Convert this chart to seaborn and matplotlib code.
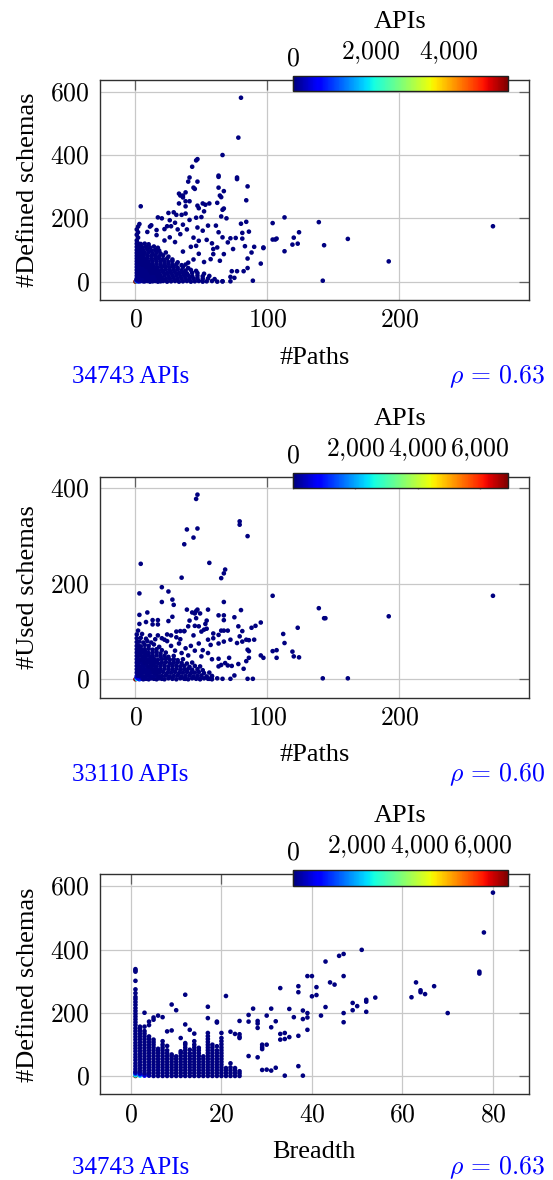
import matplotlib
matplotlib.use("Agg")
import matplotlib.pyplot as plt
import numpy as np
import pandas as pd
import seaborn as sns
from matplotlib.ticker import FuncFormatter, FixedLocator
from matplotlib.colors import Normalize
from matplotlib.cm import ScalarMappable
from matplotlib.transforms import ScaledTranslation

# ---------------- data: (x, y, number of APIs at that point) ----------------
# Panel 1: #Paths vs #Defined schemas
defined_vs_paths = [
    (0,0,5500),(1,1,2100),(2,1,620),(1,3,480),(1,5,350),(3,1,260),(2,4,180),(4,2,150),(1,7,120),(5,3,95),(3,6,80),(6,1,70),
    (7,1,30),(9,2,25),(11,0,22),(13,1,20),(15,2,18),(17,0,15),(19,1,14),(21,2,12),(24,0,10),(27,1,9),(30,2,8),(33,0,7),(36,1,6),(39,2,5),(42,0,4),(45,1,4),(48,2,3),(51,0,3),(54,1,2),(58,2,2),(62,0,1),(66,1,1),(72,1,1),
    (1,10,60),(2,11,55),(4,9,50),(6,10,45),(8,11,40),(10,9,35),(12,10,30),(14,11,26),(16,9,22),(18,10,20),(20,11,18),(23,9,15),(26,10,12),(29,11,10),(32,9,8),(35,10,7),(38,11,6),(41,9,5),(44,10,4),(47,11,3),(51,9,2),(55,10,2),(60,8,1),
    (1,19,50),(3,20,45),(5,18,40),(7,19,36),(9,20,32),(11,18,28),(13,19,25),(15,20,22),(17,18,20),(19,19,17),(22,20,15),(25,18,12),(28,19,10),(31,20,8),(34,18,6),(37,19,5),(40,20,4),(43,18,3),(47,19,2),(51,17,2),(56,18,1),
    (1,28,40),(2,29,36),(4,27,33),(6,28,30),(8,29,27),(10,27,24),(12,28,21),(14,29,19),(16,27,17),(18,28,15),(21,29,12),(24,27,10),(27,28,8),(30,29,7),(33,27,5),(36,28,4),(39,26,3),(43,28,2),(47,27,2),(52,25,1),
    (1,37,35),(3,38,31),(5,36,28),(7,37,25),(9,38,22),(11,36,20),(13,37,18),(15,38,16),(17,36,14),(20,37,12),(23,38,10),(26,36,8),(29,37,6),(32,38,5),(35,36,4),(38,35,3),(42,37,2),(46,34,1),
    (1,46,30),(2,47,27),(4,45,24),(6,46,22),(8,47,20),(10,45,18),(12,46,16),(14,47,14),(17,45,12),(20,46,10),(23,47,8),(26,45,6),(29,46,5),(32,44,4),(36,46,3),(40,43,2),
    (1,55,25),(3,56,22),(5,54,20),(7,55,18),(9,56,16),(11,54,14),(13,55,12),(16,56,10),(19,54,9),(22,55,7),(25,56,6),(28,53,5),(31,55,4),(35,52,3),(38,54,2),
    (1,64,22),(2,65,19),(4,63,17),(6,64,15),(8,65,13),(10,63,12),(13,64,10),(16,65,9),(19,63,7),(22,64,6),(25,62,5),(28,65,4),(32,61,3),
    (1,73,19),(3,74,16),(5,72,14),(7,73,12),(9,74,11),(12,72,9),(15,73,8),(18,74,7),(21,71,6),(24,73,5),(28,70,3),
    (1,82,16),(2,83,14),(4,81,12),(6,82,10),(9,83,9),(12,81,8),(15,82,6),(18,80,5),(21,83,4),(25,79,3),
    (1,91,14),(3,92,12),(5,90,10),(7,91,9),(10,92,7),(13,90,6),(16,91,5),(19,89,4),(23,92,2),
    (1,100,12),(2,101,10),(4,99,9),(6,100,8),(9,101,6),(12,99,5),(15,100,4),(18,98,3),
    (1,110,10),(3,111,8),(5,109,7),(8,110,6),(11,108,4),(14,111,3),(17,107,2),
    (1,120,8),(2,121,7),(4,119,6),(7,120,4),(10,118,3),
    (1,130,6),(2,139,5),(1,148,4),(2,156,3),(1,165,3),(2,174,2),(3,182,2),(4,238,1),
    (9,157,1),(11,174,1),(12,178,1),(16,163,1),(16,147,1),(17,203,1),(20,200,1),(22,166,1),(24,175,1),(25,217,1),(26,194,1),(27,175,1),
    (29,219,1),(31,211,1),(30,186,1),(32,165,1),(33,278,1),(34,272,1),(36,266,1),(33,247,1),(35,211,1),(38,254,1),(41,254,1),(38,215,1),
    (38,238,1),(36,180,1),(39,165,1),(41,195,1),(47,240,1),(48,232,1),(51,247,1),(53,243,1),(56,247,1),(46,202,1),(50,204,1),(52,222,1),
    (47,171,1),(51,161,1),(55,177,1),(44,139,1),(48,129,1),(46,113,1),(54,132,1),(58,121,1),(59,103,1),(62,249,1),(65,267,1),(64,272,1),
    (63,297,1),(67,286,1),(67,231,1),(66,227,1),(65,206,1),(69,200,1),(61,177,1),(63,156,1),(66,140,1),(70,124,1),(62,108,1),(59,87,1),
    (57,71,1),(64,66,1),(67,87,1),(72,137,1),(76,138,1),(74,103,1),(81,154,1),(80,183,1),(84,189,1),(86,158,1),(83,112,1),(81,136,1),
    (88,92,1),(90,110,1),(85,73,1),(85,43,1),(82,33,1),(77,33,1),(75,12,1),(72,15,1),(73,33,1),(66,1,1),(89,3,1),(95,57,1),(97,108,1),
    (97,106,1),(104,185,1),(104,133,1),(107,136,1),(106,133,1),(113,96,1),(113,203,1),(120,139,1),(119,117,1),(123,120,1),(124,156,1),
    (139,188,1),(143,115,1),(142,3,1),(161,135,1),(192,64,1),(271,175,1),(38,282,1),(36,272,1),(44,297,1),(45,293,1),(41,329,1),
    (40,316,1),(47,316,1),(63,335,1),(63,331,1),(77,329,1),(77,324,1),(43,363,1),(46,383,1),(47,387,1),(66,400,1),(78,455,1),(80,581,1),
    (85,301,1),(84,257,1),(40,60,1),(44,70,1),(48,88,1),(52,62,1),(36,95,1),(42,110,1),(30,125,1),(26,140,1),(34,150,1),(22,130,1),
]

# Panel 2: #Paths vs #Used schemas
used_vs_paths = [
    (0,0,6900),(1,1,2400),(3,0,1300),(1,4,900),(2,2,700),(5,1,400),(1,7,300),(4,5,200),(7,2,120),(2,10,90),
    (6,0,40),(8,1,35),(10,0,30),(12,2,27),(14,1,24),(16,0,21),(18,2,19),(20,1,17),(22,0,15),(25,2,13),(28,1,11),(31,0,9),(34,2,8),(37,1,7),(40,0,6),(43,2,5),(46,1,4),(49,0,3),(52,2,3),(55,1,2),(58,0,2),(62,2,1),
    (2,7,55),(4,8,50),(6,6,46),(8,7,42),(10,8,38),(12,6,34),(14,7,30),(16,8,27),(18,6,24),(20,7,21),(23,8,18),(26,6,15),(29,7,13),(32,8,11),(35,6,9),(38,7,8),(41,8,6),(44,6,5),(47,7,4),(50,8,3),(54,6,2),(58,7,1),
    (1,14,50),(2,15,46),(4,13,42),(6,14,38),(8,15,35),(10,13,32),(12,14,29),(14,15,26),(16,13,23),(18,14,20),(21,15,18),(24,13,15),(27,14,13),(30,15,11),(33,13,9),(36,14,7),(39,15,6),(42,13,5),(45,14,4),(48,15,3),(52,13,2),(56,14,1),
    (1,21,45),(3,22,41),(5,20,37),(7,21,34),(9,22,31),(11,20,28),(13,21,25),(15,22,22),(17,20,20),(19,21,18),(22,22,15),(25,20,13),(28,21,11),(31,22,9),(34,20,7),(37,21,6),(40,22,5),(43,20,4),(47,21,3),(51,19,2),
    (1,28,40),(2,29,36),(4,27,33),(6,28,30),(8,29,27),(10,27,24),(12,28,21),(14,29,19),(16,27,17),(19,28,15),(22,29,12),(25,27,10),(28,28,8),(31,29,7),(34,27,5),(37,28,4),(41,26,3),(45,28,2),(49,27,1),
    (1,35,35),(3,36,31),(5,34,28),(7,35,25),(9,36,22),(11,34,20),(13,35,18),(15,36,16),(17,34,14),(20,35,12),(23,36,10),(26,34,8),(29,35,6),(32,36,5),(35,34,4),(39,33,3),(43,35,2),
    (1,42,30),(2,43,27),(4,41,24),(6,42,22),(8,43,20),(10,41,18),(12,42,16),(14,43,14),(17,41,12),(20,42,10),(23,43,8),(26,41,6),(29,42,5),(32,40,4),(36,42,3),
    (1,49,26),(3,50,23),(5,48,20),(7,49,18),(9,50,16),(11,48,14),(13,49,12),(16,50,10),(19,48,8),(22,49,6),(25,47,5),(29,49,3),
    (1,56,22),(2,57,19),(4,55,17),(6,56,15),(8,57,13),(10,55,11),(13,56,9),(16,57,7),(19,54,5),(23,56,3),
    (1,63,18),(3,64,15),(5,62,13),(7,63,11),(10,64,9),(13,62,7),(16,63,5),(20,61,3),
    (1,70,14),(2,71,12),(4,69,10),(7,72,8),(10,70,6),(14,73,4),(18,68,3),(1,78,10),(3,79,8),(6,77,6),(9,80,5),(12,77,4),
    (1,86,6),(4,87,5),(8,85,4),(15,84,2),(22,83,2),(1,94,4),(5,95,3),(11,92,2),(2,102,2),(17,92,1),(20,86,1),(24,94,1),
    (27,92,1),(31,100,1),(34,101,1),(37,101,1),(35,55,1),(40,50,1),(45,60,1),(50,48,1),(55,55,1),(42,70,1),(48,75,1),(38,65,1),
    (33,75,1),(30,60,1),(27,70,1),(24,80,1),
    (3,116,1),(8,120,1),(13,124,1),(13,115,1),(17,124,1),(17,115,1),(9,140,1),(3,135,1),(25,122,1),(28,131,1),(20,162,1),(20,193,1),
    (25,184,1),(3,180,1),(28,167,1),(29,156,1),(35,213,1),(4,242,1),(37,283,1),(39,314,1),(44,297,1),(47,316,1),(46,378,1),(47,387,1),
    (56,244,1),(68,230,1),(67,222,1),(65,212,1),(79,331,1),(79,324,1),(85,300,1),(39,146,1),(46,143,1),(47,146,1),(55,146,1),(43,140,1),
    (45,138,1),(49,138,1),(46,128,1),(53,116,1),(54,123,1),(48,111,1),(45,112,1),(40,111,1),(41,123,1),(37,101,1),(63,134,1),(67,134,1),
    (67,124,1),(75,130,1),(80,145,1),(67,162,1),(78,111,1),(81,101,1),(79,90,1),(77,76,1),(81,79,1),(86,59,1),(85,62,1),(86,45,1),
    (84,38,1),(82,22,1),(78,32,1),(75,8,1),(89,1,1),(85,1,1),(91,112,1),(88,108,1),(95,119,1),(90,83,1),(84,83,1),(86,82,1),(95,50,1),
    (97,45,1),(66,1,1),(72,1,1),(56,1,1),(58,6,1),(49,1,1),(38,1,1),(50,100,1),(52,104,1),(54,106,1),(59,96,1),(63,93,1),(65,102,1),
    (67,102,1),(70,102,1),(72,83,1),(67,79,1),(63,75,1),(59,86,1),(55,83,1),(57,72,1),(51,61,1),(71,45,1),(73,28,1),(70,29,1),(68,34,1),
    (65,30,1),(63,43,1),(63,27,1),(58,42,1),(104,175,1),(139,149,1),(143,128,1),(123,108,1),(112,95,1),(113,76,1),(104,59,1),(107,61,1),
    (107,45,1),(119,58,1),(120,48,1),(124,46,1),(142,2,1),(161,2,1),(144,128,1),(192,132,1),(271,175,1),(31,88,1),(34,84,1),(44,92,1),
]

# Panel 3: Breadth vs #Defined schemas
defined_vs_breadth = [
    (1,0,6800),(1,2,2600),(2,1,2200),(1,6,1500),(2,5,900),(3,1,800),(3,4,450),(1,10,350),(2,9,250),(4,1,200),
    (1,14,90),(1,22,70),(1,31,60),(1,40,50),(1,50,45),(1,59,40),(1,68,35),(1,78,30),(1,87,28),(1,96,25),(1,105,22),(1,115,20),(1,124,18),(1,133,16),
    (1,142,14),(1,151,12),(1,161,10),(1,170,9),(1,179,8),(1,188,7),(1,197,6),(1,206,5),(1,215,5),(1,225,4),(1,234,3),(1,243,3),(1,250,2),
    (1,262,1),(1,274,1),(1,301,1),(1,330,1),(1,334,1),(1,338,1),
    (2,17,60),(2,26,50),(2,35,42),(2,44,36),(2,53,30),(2,62,25),(2,71,20),(2,80,16),(2,89,13),(2,98,10),(2,107,8),(2,116,6),(2,125,5),(2,134,4),(2,143,3),(2,150,2),(2,156,1),
    (3,9,70),(3,17,55),(3,26,45),(3,35,38),(3,44,32),(3,53,26),(3,62,21),(3,71,17),(3,80,14),(3,89,11),(3,98,9),(3,107,7),(3,116,5),(3,125,4),(3,134,3),(3,142,2),(3,156,1),(3,200,1),
    (4,9,60),(4,18,48),(4,27,40),(4,36,33),(4,45,27),(4,54,22),(4,63,18),(4,72,14),(4,81,11),(4,90,9),(4,99,7),(4,108,5),(4,117,3),(4,125,2),(4,161,1),(4,172,1),
    (5,0,60),(5,9,50),(5,18,42),(5,27,35),(5,36,29),(5,45,24),(5,54,19),(5,63,15),(5,72,12),(5,81,9),(5,90,7),(5,99,5),(5,107,3),(5,115,2),(5,178,1),(5,185,1),
    (6,0,50),(6,9,42),(6,18,35),(6,27,29),(6,36,24),(6,45,19),(6,54,15),(6,63,11),(6,72,8),(6,80,5),(6,86,3),(6,191,1),
    (7,0,45),(7,9,38),(7,18,31),(7,27,26),(7,36,21),(7,45,17),(7,54,13),(7,63,10),(7,72,7),(7,81,5),(7,90,4),(7,99,3),(7,110,2),(7,186,1),
    (8,0,40),(8,9,33),(8,18,27),(8,27,22),(8,36,18),(8,45,14),(8,54,11),(8,63,8),(8,72,6),(8,81,4),(8,95,2),(8,141,1),
    (9,0,36),(9,9,30),(9,18,24),(9,27,19),(9,36,15),(9,45,12),(9,54,9),(9,62,6),(9,68,3),(9,144,1),(9,226,1),
    (10,0,32),(10,9,26),(10,18,21),(10,27,17),(10,36,13),(10,45,10),(10,54,7),(10,62,4),(10,208,1),
    (11,0,29),(11,9,24),(11,18,19),(11,27,15),(11,36,12),(11,45,9),(11,54,7),(11,63,5),(11,72,3),(11,78,2),(11,120,1),
    (12,0,27),(12,9,22),(12,18,18),(12,27,14),(12,36,11),(12,45,9),(12,54,7),(12,63,5),(12,72,4),(12,81,3),(12,90,2),(12,99,2),(12,104,1),(12,163,1),(12,257,1),
    (13,0,25),(13,9,20),(13,18,16),(13,27,13),(13,36,10),(13,45,8),(13,54,6),(13,63,4),(13,72,3),(13,83,2),(13,146,1),
    (14,0,23),(14,9,19),(14,18,15),(14,27,12),(14,36,9),(14,45,7),(14,54,6),(14,63,4),(14,72,3),(14,81,2),(14,90,2),(14,99,1),(14,110,1),(14,134,1),
    (15,0,21),(15,9,17),(15,18,14),(15,27,11),(15,36,8),(15,45,6),(15,54,5),(15,63,4),(15,72,3),(15,81,2),(15,89,1),
    (16,0,19),(16,9,16),(16,18,12),(16,27,10),(16,36,7),(16,45,5),(16,54,3),(16,62,2),
    (17,0,18),(17,9,15),(17,18,12),(17,27,9),(17,36,7),(17,45,6),(17,54,5),(17,63,4),(17,72,3),(17,81,3),(17,90,2),(17,99,2),(17,108,1),(17,117,1),(17,126,1),(17,136,1),(17,183,1),(17,219,1),
    (18,0,16),(18,9,13),(18,18,10),(18,27,8),(18,36,6),(18,45,5),(18,54,4),(18,63,3),(18,72,2),(18,81,2),(18,90,1),(18,99,1),
    (19,0,15),(19,9,12),(19,18,9),(19,27,7),(19,36,6),(19,45,5),(19,54,4),(19,63,3),(19,72,2),(19,81,2),(19,94,1),(19,169,1),(19,172,1),
    (20,0,14),(20,9,11),(20,18,9),(20,27,7),(20,36,5),(20,45,4),(20,54,3),(20,63,3),(20,72,2),(20,81,2),(20,90,1),(20,100,1),(20,110,1),(20,120,1),(20,136,1),
    (21,0,12),(21,9,8),(21,18,4),(21,25,2),(21,253,1),
    (22,0,11),(22,9,7),(22,18,4),(22,27,2),(22,40,1),(22,140,1),
    (23,0,10),(23,9,6),(23,18,3),(23,25,1),(23,133,1),
    (24,0,9),(24,8,5),(24,15,2),(24,120,1),(24,124,1),(24,132,1),(24,174,1),
    (26,193,1),(26,172,1),(26,63,1),(27,213,1),(28,174,1),(28,166,1),(28,152,1),(28,59,1),(29,99,1),(29,91,1),(29,85,1),(29,19,1),
    (30,20,1),(30,191,1),(30,99,1),(31,213,1),(31,154,1),(31,17,1),(32,173,1),(32,26,1),(33,278,1),(33,133,1),(33,115,1),(34,136,1),
    (34,117,1),(34,1,1),(35,212,1),(35,123,1),(36,186,1),(37,284,1),(37,265,1),(37,127,1),(37,31,1),(38,207,1),(38,180,1),(38,1,1),
    (39,316,1),(40,316,1),(39,199,1),(39,185,1),(39,146,1),(40,252,1),(41,281,1),(41,256,1),(42,191,1),(43,362,1),(43,218,1),(44,296,1),
    (45,289,1),(46,380,1),(47,386,1),(47,316,1),(47,199,1),(47,170,1),(49,231,1),(49,208,1),(50,221,1),(51,399,1),(52,241,1),(52,235,1),
    (52,203,1),(54,248,1),(62,249,1),(63,296,1),(64,271,1),(64,265,1),(65,259,1),(67,284,1),(70,199,1),(77,330,1),(77,324,1),(78,454,1),
    (80,580,1),
]

# labels / ticks
x_labels = ["#Paths", "#Paths", "Breadth"]
y_labels = ["#Defined schemas", "#Used schemas", "#Defined schemas"]
api_totals = ["34743 APIs", "33110 APIs", "34743 APIs"]
rho_values = ["0.63", "0.60", "0.63"]
x_ticks = [[0, 100, 200], [0, 100, 200], [0, 20, 40, 60, 80]]
y_ticks = [[0, 200, 400, 600], [0, 200, 400], [0, 200, 400, 600]]
cbar_max = [5500, 6900, 6800]
cbar_ticks = [[0, 2000, 4000], [0, 2000, 4000, 6000], [0, 2000, 4000, 6000]]
datasets = [defined_vs_paths, used_vs_paths, defined_vs_breadth]

# ---------------- styling ----------------
sns.set_style("white")
plt.rcParams["font.family"] = ["Liberation Serif", "DejaVu Serif"]
plt.rcParams["mathtext.fontset"] = "cm"
for k in ["text.color", "axes.labelcolor", "xtick.color", "ytick.color"]:
    plt.rcParams[k] = "black"
FS = 19.0     # text font (Times-like)
FSN = 18.0    # note font
FSM = 18.5    # math/number font (Computer Modern)
W, H = 553, 1180
JET = matplotlib.colormaps["jet"]

fig = plt.figure(figsize=(W / 100, H / 100), dpi=100)

# pixel geometry (left, right, top, bottom) of each panel and colorbar
ax_px = [(99.7, 528.7, 79.7, 300.0), (99.7, 528.7, 476.7, 697.7), (99.7, 528.7, 874.3, 1094.3)]
cb_px = [(293.3, 507.7, 75.7, 90.7), (293.3, 507.7, 472.7, 488.3), (293.3, 507.7, 869.7, 885.7)]
note_off = [83, 83, 80]
xlims = [(-27.1, 298.1), (-27.1, 298.1), (-6.9, 87.9)]
ylims = [(-58, 638), (-38.6, 424.6), (-58, 638)]


def rect(l, r, t, b):
    return [l / W, 1 - b / H, (r - l) / W, (b - t) / H]


def num_fmt(v, p):
    return "$%d$" % int(round(v))


def cb_fmt(v, p):
    s = f"{int(round(v)):,}".replace(",", "{,}")
    return "$" + s + "$"


for i in range(3):
    l, r, t, b = ax_px[i]
    ax = fig.add_axes(rect(l, r, t, b))
    df = pd.DataFrame(datasets[i], columns=["x", "y", "APIs"])
    sns.scatterplot(data=df, x="x", y="y", hue="APIs", palette=JET,
                    hue_norm=(0, cbar_max[i]), s=11, linewidth=0,
                    legend=False, ax=ax, zorder=3)
    ax.set_xlim(*xlims[i])
    ax.set_ylim(*ylims[i])
    ax.xaxis.set_major_locator(FixedLocator(x_ticks[i]))
    ax.yaxis.set_major_locator(FixedLocator(y_ticks[i]))
    ax.xaxis.set_major_formatter(FuncFormatter(num_fmt))
    ax.yaxis.set_major_formatter(FuncFormatter(num_fmt))
    ax.grid(True, color="#c8c8c8", lw=0.9)
    ax.set_axisbelow(True)
    for sp in ax.spines.values():
        sp.set_color("#303030")
        sp.set_linewidth(1.0)
    ax.tick_params(direction="in", length=7, width=0.9, color="#606060",
                   top=True, right=True, labelsize=FSM, pad=7)
    ax.set_xlabel(x_labels[i], fontsize=FS, va="baseline")
    ax.xaxis.set_label_coords(0.5, -63.5 / (b - t))
    ax.set_ylabel(y_labels[i], fontsize=FS, va="center")
    ax.yaxis.set_label_coords((28 - l) / (r - l), 0.5)

    # colorbar
    cl, cr, ct, cbt = cb_px[i]
    cax = fig.add_axes(rect(cl, cr, ct, cbt))
    sm = ScalarMappable(norm=Normalize(0, cbar_max[i]), cmap=JET)
    cb = fig.colorbar(sm, cax=cax, orientation="horizontal", ticklocation="top")
    cb.outline.set_linewidth(1.0)
    cb.outline.set_edgecolor("#202020")
    cax.minorticks_off()
    cax.xaxis.set_major_locator(FixedLocator(cbar_ticks[i]))
    cax.xaxis.set_major_formatter(FuncFormatter(cb_fmt))
    cax.tick_params(axis="x", which="major", direction="in",
                    length=(cbt - ct) * 0.72, width=1.0, color="#808080",
                    labelsize=FSM, pad=7, top=True, bottom=False,
                    labeltop=True, labelbottom=False)
    ticks = cax.xaxis.get_major_ticks()
    t0 = ticks[0].label2
    t0.set_transform(t0.get_transform() + ScaledTranslation(0, -5 / 100, fig.dpi_scale_trans))
    fig.text(400.5 / W, 1 - (ct - 47.7) / H, "APIs", ha="center", va="baseline", fontsize=FS)

    # annotations under each panel
    yb = 1 - (b + note_off[i]) / H
    fig.text(72 / W, yb, api_totals[i], ha="left", va="baseline",
             fontsize=FSN, color="blue")
    fig.text(545 / W, yb, r"$\rho\,=\," + rho_values[i] + "$", ha="right",
             va="baseline", fontsize=FSM, color="blue")

fig.savefig("out.png", dpi=100)
